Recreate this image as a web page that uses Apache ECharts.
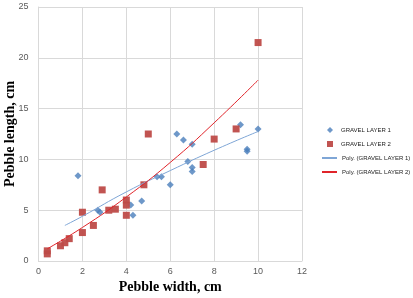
<!DOCTYPE html>
<html><head><meta charset="utf-8">
<script src="https://cdn.jsdelivr.net/npm/echarts@6/dist/echarts.min.js"></script>
<style>html,body{margin:0;padding:0;background:#fff}#c{width:413px;height:298px}</style>
</head><body><div id="c"></div>
<script>
// GRAVEL LAYER 1 (width, length)
const layer1 = [[1.8,8.4],[2.7,5.0],[2.8,4.8],[4.2,5.5],[4.3,4.5],[4.7,5.9],[5.4,8.3],[5.6,8.3],[6.0,7.5],[6.3,12.5],[6.6,11.9],[6.8,9.8],[7.0,9.2],[7.0,8.8],[7.0,11.5],[9.2,13.4],[9.5,11.0],[9.5,10.8],[10.0,13.0]];
// GRAVEL LAYER 2 (width, length)
const layer2 = [[0.4,0.7],[0.4,1.0],[1.0,1.5],[1.2,1.8],[1.4,2.2],[2.0,4.8],[2.0,2.8],[2.5,3.5],[2.9,7.0],[3.2,5.0],[3.5,5.1],[4.0,6.0],[4.0,5.5],[4.0,4.5],[4.8,7.5],[5.0,12.5],[7.5,9.5],[8.0,12.0],[9.0,13.0],[10.0,21.5]];
// Trend lines
const poly1 = [[1.2,3.5],[2,4.4],[4,6.8],[6,8.9],[8,10.9],[10,12.75]];
const poly2 = [[0.4,1.2],[2,3.3],[4,6.3],[6,9.7],[8,13.6],[10,17.8]];
const xTicks = {min:0, max:12, interval:2};
const yTicks = {min:0, max:25, interval:5};
const names = ['GRAVEL LAYER 1','GRAVEL LAYER 2','Poly. (GRAVEL LAYER 1)','Poly. (GRAVEL LAYER 2)'];

const chart = echarts.init(document.getElementById('c'), null, {renderer:'canvas'});
const tick = {color:'#595959', fontSize:9, fontFamily:'Liberation Sans'};
const gridLine = {show:true, lineStyle:{color:'#d9d9d9', width:1}};
const legendText = {fontSize:6, fontFamily:'Liberation Sans', color:'#222', lineHeight:14};
chart.setOption({
  animation:false,
  grid:{left:38.5, right:111, top:7, bottom:37, containLabel:false, outerBoundsMode:'none'},
  xAxis:{type:'value', min:xTicks.min, max:xTicks.max, interval:xTicks.interval,
    axisLine:{show:true, onZero:false, lineStyle:{color:'#d9d9d9'}}, axisTick:{show:false},
    splitLine:gridLine, axisLabel:Object.assign({margin:6}, tick),
    name:'Pebble width, cm', nameLocation:'middle', nameGap:19, nameMoveOverlap:false,
    nameTextStyle:{fontFamily:'Liberation Serif', fontWeight:'bold', fontSize:14, color:'#000'}},
  yAxis:{type:'value', min:yTicks.min, max:yTicks.max, interval:yTicks.interval,
    axisLine:{show:true, lineStyle:{color:'#d9d9d9'}}, axisTick:{show:false},
    splitLine:gridLine, axisLabel:Object.assign({margin:10}, tick),
    name:'Pebble length, cm', nameLocation:'middle', nameGap:21, nameMoveOverlap:false,
    nameTextStyle:{fontFamily:'Liberation Serif', fontWeight:'bold', fontSize:14, color:'#000'}},
  legend:[
    {orient:'vertical', left:327, top:123, itemWidth:6, itemHeight:6, itemGap:0, padding:0,
     data:[{name:names[0], icon:'diamond'},{name:names[1], icon:'rect'}],
     textStyle:Object.assign({padding:[0,0,0,3]}, legendText)},
    {orient:'vertical', left:322, top:151, itemWidth:15, itemHeight:2, itemGap:0, padding:0,
     data:[{name:names[2], icon:'rect'},{name:names[3], icon:'rect'}],
     textStyle:legendText}
  ],
  series:[
    {name:names[0], type:'scatter', data:layer1, symbol:'diamond', symbolSize:7,
     itemStyle:{color:'#4A7EBB'}, z:2},
    {name:names[1], type:'scatter', data:layer2, symbol:'rect', symbolSize:7,
     itemStyle:{color:'#BE4B48', opacity:0.95}, z:2},
    {name:names[2], type:'line', data:poly1, smooth:true, symbol:'none',
     lineStyle:{color:'#7FA6D6', width:1}, itemStyle:{color:'#7FA6D6'}, z:3},
    {name:names[3], type:'line', data:poly2, smooth:true, symbol:'none',
     lineStyle:{color:'#E0242A', width:1}, itemStyle:{color:'#E0242A'}, z:3}
  ]
});
</script></body></html>
